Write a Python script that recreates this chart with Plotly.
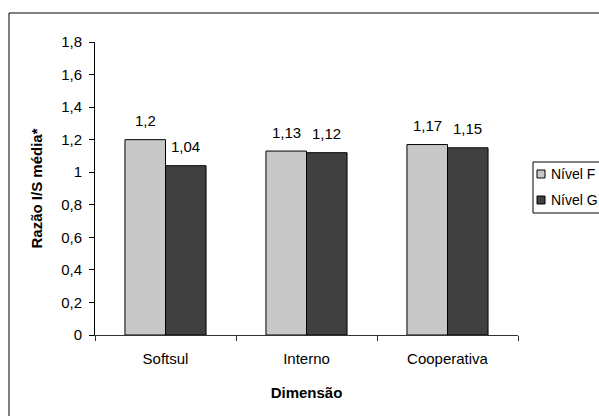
import plotly.graph_objects as go

# Data
dimensoes = ["Softsul", "Interno", "Cooperativa"]
series_names = ["Nível F", "Nível G"]
nivel_f = [1.2, 1.13, 1.17]
nivel_g = [1.04, 1.12, 1.15]
y_ticks = [0, 0.2, 0.4, 0.6, 0.8, 1.0, 1.2, 1.4, 1.6, 1.8]

colors = ["#C8C8C8", "#404040"]
font_family = "Liberation Sans"

W, H = 599, 416
ML, MR, MT, MB = 95, 81, 42, 81
PW, PH = W - ML - MR, H - MT - MB
FS = 15

fig = go.Figure()
for name, vals, col in zip(series_names, [nivel_f, nivel_g], colors):
    fig.add_trace(go.Bar(
        x=dimensoes, y=vals, name=name,
        marker=dict(color=col, line=dict(color="#000000", width=1)),
    ))

def fmt(v):
    return ("%g" % v).replace(".", ",")

# Value labels above each bar
bar_px = PW / len(dimensoes) * (1 - 0.425) / 2
annotations = []
for k, vals in enumerate([nivel_f, nivel_g]):
    shift = (k - 0.5) * bar_px
    for cat, v in zip(dimensoes, vals):
        annotations.append(dict(
            x=cat, y=v, xref="x", yref="y", text=fmt(v), showarrow=False,
            xshift=shift, yshift=19, font=dict(size=FS, color="#000000", family=font_family),
        ))

# Pixel -> paper helpers
def px_x(p):
    return (p - ML) / PW

def px_y(p):
    return (H - MB - p) / PH

# Outer chart frame
shapes = [dict(
    type="rect", xref="paper", yref="paper",
    x0=px_x(9), x1=px_x(640), y0=px_y(440), y1=px_y(13),
    line=dict(color="#000000", width=1), fillcolor="rgba(0,0,0,0)", layer="below",
)]

# Compact legend box with swatches
shapes.append(dict(
    type="rect", xref="paper", yref="paper",
    x0=px_x(533), x1=px_x(650), y0=px_y(213), y1=px_y(162),
    line=dict(color="#000000", width=1), fillcolor="#FFFFFF",
))
for i, (name, col) in enumerate(zip(series_names, colors)):
    cy = 174 + i * 26
    shapes.append(dict(
        type="rect", xref="paper", yref="paper",
        x0=px_x(537), x1=px_x(545), y0=px_y(cy + 4), y1=px_y(cy - 4),
        line=dict(color="#000000", width=1), fillcolor=col,
    ))
    annotations.append(dict(
        x=px_x(549), y=px_y(cy), xref="paper", yref="paper", text=name,
        showarrow=False, xanchor="left", yanchor="middle",
        font=dict(size=14, color="#000000", family=font_family),
    ))

fig.update_layout(
    width=W, height=H,
    margin=dict(l=ML, r=MR, t=MT, b=MB, autoexpand=False),
    paper_bgcolor="#FFFFFF", plot_bgcolor="#FFFFFF",
    separators=",.",
    font=dict(family=font_family, size=FS, color="#000000"),
    barmode="group", bargap=0.425, bargroupgap=0,
    showlegend=False,
    annotations=annotations,
    shapes=shapes,
    xaxis=dict(
        showline=True, linecolor="#333333", linewidth=1,
        ticks="outside", tickson="boundaries", ticklen=5, tickcolor="#333333",
        ticklabelstandoff=10,
        title=dict(text="<b>Dimensão</b>", font=dict(size=FS), standoff=21),
        tickfont=dict(size=FS),
        automargin=False,
    ),
    yaxis=dict(
        range=[0, 1.8], tickvals=y_ticks, showgrid=False, zeroline=False,
        showline=True, linecolor="#000000", linewidth=1,
        ticks="outside", ticklen=5, tickcolor="#000000",
        ticklabelstandoff=4,
        title=dict(text="<b>Razão I/S média*</b>", font=dict(size=FS), standoff=14),
        tickfont=dict(size=FS),
        automargin=False,
    ),
)

fig.write_html("out.html")
